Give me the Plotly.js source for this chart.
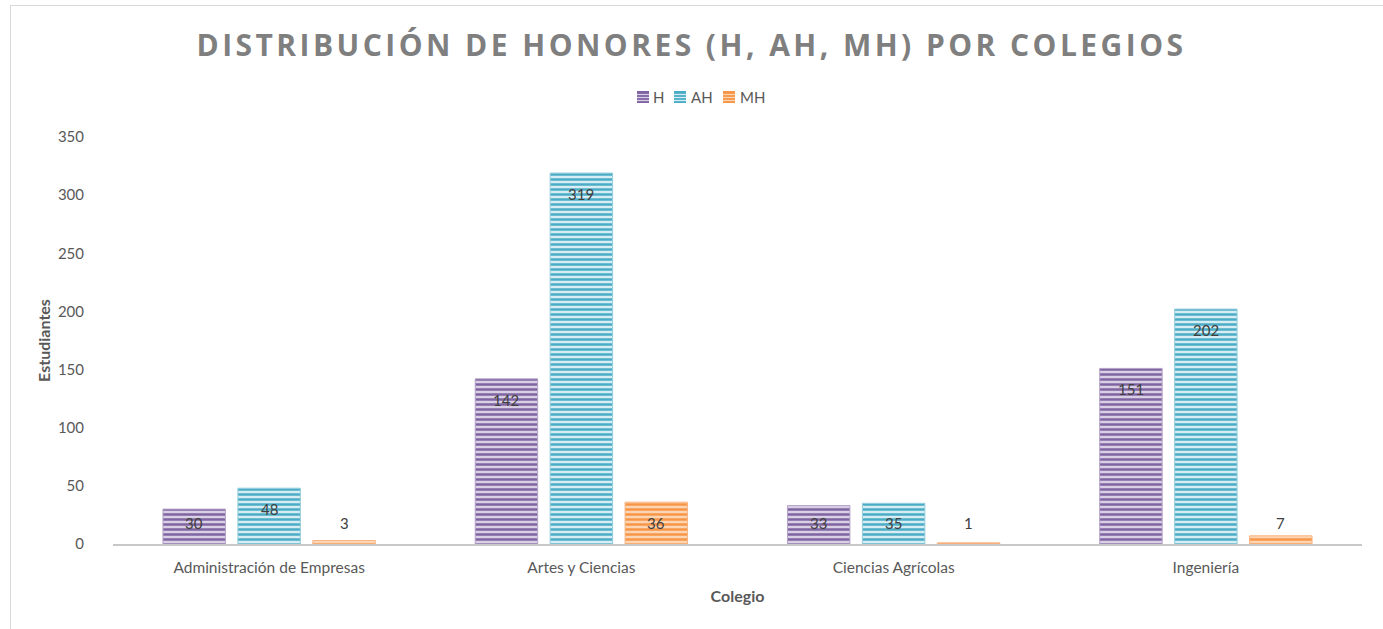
<!DOCTYPE html>
<html>
<head>
<meta charset="utf-8">
<script src="https://cdn.plot.ly/plotly-3.0.1.min.js"></script>
<style>
  html, body { margin: 0; padding: 0; background: #fff; overflow: hidden; }
  #frame { position: absolute; left: 10px; top: 5px; width: 1400px; height: 700px; border: 1px solid #d9d9d9; }
  #chart { position: absolute; left: 0; top: 0; width: 1383px; height: 629px; }
  #chart .gtitle { letter-spacing: 3.45px; }
</style>
</head>
<body>
<div id="frame"></div>
<div id="chart"></div>
<script>
const categories = ["Administración de Empresas", "Artes y Ciencias", "Ciencias Agrícolas", "Ingeniería"];
const seriesNames = ["H", "AH", "MH"];
const valuesH = [30, 142, 33, 151];
const valuesAH = [48, 319, 35, 202];
const valuesMH = [3, 36, 1, 7];

const allValues = [valuesH, valuesAH, valuesMH];
const styles = [
  {fg: "#8064a2", bg: "#d9d0e6", line: "#b3a2c7"},
  {fg: "#4bacc6", bg: "#d6edf3", line: "#92cddc"},
  {fg: "#f79646", bg: "#fcd5b4", line: "#f9b482"}
];
// bar geometry (in category units)
const barWidth = 0.2;
const barCenters = [-0.24, 0, 0.24];
const labelFont = {family: "Lato, sans-serif", size: 15, color: "#404040"};

const traces = allValues.map((vals, i) => ({
  type: "bar",
  name: seriesNames[i],
  x: categories,
  y: vals,
  width: barWidth,
  offset: barCenters[i] - barWidth / 2,
  hoverinfo: "x+y+name",
  marker: {
    color: styles[i].bg,
    line: {color: styles[i].line, width: 1},
    pattern: {shape: "-", fgcolor: styles[i].fg, bgcolor: styles[i].bg, size: 5, solidity: 0.5, fillmode: "replace"}
  }
}));

// data labels (inside end, clamped near the baseline for short bars)
const annotations = [];
allValues.forEach((vals, i) => {
  vals.forEach((v, j) => {
    annotations.push({
      x: j + barCenters[i], xref: "x",
      y: Math.max(v - 18, 18), yref: "y",
      text: String(v), showarrow: false,
      xanchor: "center", yanchor: "middle",
      font: labelFont
    });
  });
});

// custom legend
const legendY = 1.0983;
const legendSquares = [[-100.5, -88.5], [-63.5, -51.5], [-14.5, -2.5]];
const legendTextShift = [-86.5, -48.5, 0.5];
const shapes = [];
seriesNames.forEach((name, i) => {
  const [a, b] = legendSquares[i];
  shapes.push({
    type: "rect", xref: "paper", yref: "paper",
    xsizemode: "pixel", ysizemode: "pixel", xanchor: 0.5, yanchor: legendY,
    x0: a, x1: b, y0: -6, y1: 6,
    fillcolor: styles[i].fg, line: {width: 0}
  });
  [-3.5, -0.5, 2.5].forEach(dy => {
    shapes.push({
      type: "line", xref: "paper", yref: "paper",
      xsizemode: "pixel", ysizemode: "pixel", xanchor: 0.5, yanchor: legendY,
      x0: a, x1: b, y0: dy, y1: dy,
      line: {color: styles[i].bg, width: 1.2}
    });
  });
  annotations.push({
    x: 0.5, xref: "paper", y: legendY, yref: "paper",
    xshift: legendTextShift[i], xanchor: "left", yanchor: "middle",
    text: name, showarrow: false,
    font: {family: "Lato, sans-serif", size: 15, color: "#595959"}
  });
});

const layout = {
  width: 1383,
  height: 629,
  paper_bgcolor: "rgba(0,0,0,0)",
  plot_bgcolor: "rgba(0,0,0,0)",
  margin: {l: 113, r: 21, t: 137, b: 85},
  font: {family: "Lato, sans-serif", size: 15, color: "#595959"},
  title: {
    text: "<b>DISTRIBUCIÓN DE HONORES (H, AH, MH) POR COLEGIOS</b>",
    font: {family: "Open Sans, sans-serif", size: 30, color: "#7f7f7f"},
    x: 0.5, xanchor: "center", y: 0.928, yanchor: "middle", yref: "container"
  },
  barmode: "group",
  showlegend: false,
  annotations: annotations,
  shapes: shapes,
  xaxis: {
    type: "category",
    range: [-0.5, 3.5],
    showline: true, linecolor: "#c8c8c8", linewidth: 2,
    ticks: "", showgrid: false, zeroline: false,
    ticklabelstandoff: 8,
    tickfont: {family: "Lato, sans-serif", size: 15.5, color: "#595959"},
    title: {text: "<b>Colegio</b>", font: {family: "Lato, sans-serif", size: 16, color: "#595959"}, standoff: 16}
  },
  yaxis: {
    range: [0, 350], dtick: 50, tick0: 0,
    showline: false, showgrid: false, zeroline: false,
    ticks: "", ticklabelstandoff: 28,
    tickfont: {family: "Lato, sans-serif", size: 15, color: "#595959"},
    title: {text: "<b>Estudiantes</b>", font: {family: "Lato, sans-serif", size: 16, color: "#595959"}, standoff: 3}
  }
};

Plotly.newPlot("chart", traces, layout, {displayModeBar: false, staticPlot: true});
</script>
</body>
</html>
